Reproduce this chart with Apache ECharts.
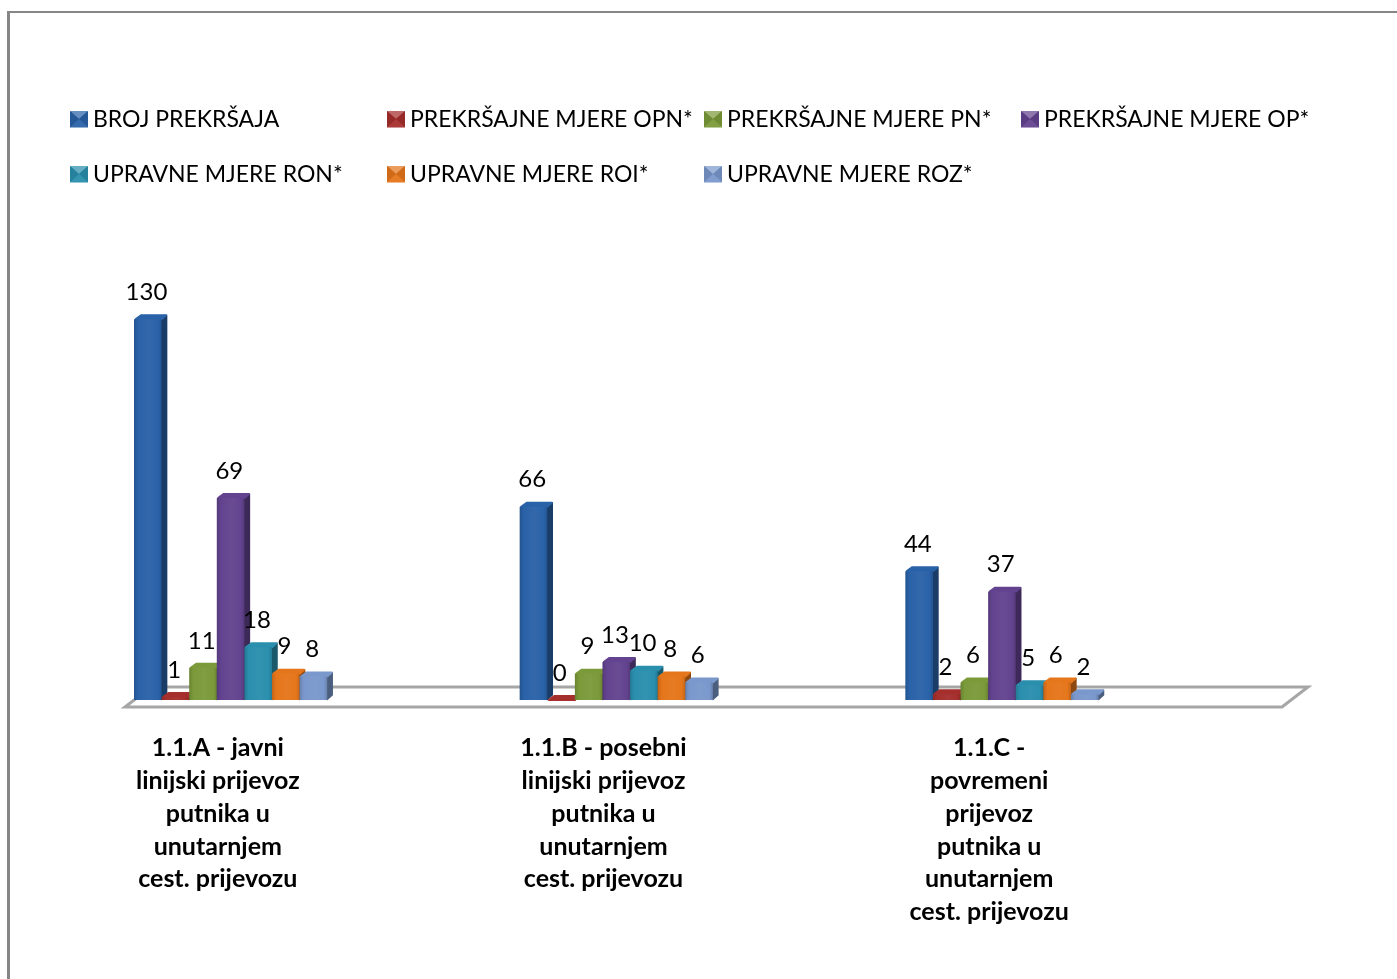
<!DOCTYPE html>
<html><head><meta charset="utf-8">
<style>html,body{margin:0;padding:0;background:#fff}#c{width:1397px;height:979px}</style>
<script src="https://cdn.jsdelivr.net/npm/echarts@6/dist/echarts.min.js"></script>
</head><body><div id="c"></div>
<script>
const categories = [
  '1.1.A - javni\nlinijski prijevoz\nputnika u\nunutarnjem\ncest. prijevozu',
  '1.1.B - posebni\nlinijski prijevoz\nputnika u\nunutarnjem\ncest. prijevozu',
  '1.1.C -\npovremeni\nprijevoz\nputnika u\nunutarnjem\ncest. prijevozu'
];
const seriesNames = ['BROJ PREKRŠAJA','PREKRŠAJNE MJERE OPN*','PREKRŠAJNE MJERE PN*','PREKRŠAJNE MJERE OP*','UPRAVNE MJERE RON*','UPRAVNE MJERE ROI*','UPRAVNE MJERE ROZ*'];
const brojPrekrsaja = [130,66,44];
const mjereOPN = [1,0,2];
const mjerePN = [11,9,6];
const mjereOP = [69,13,37];
const mjereRON = [18,10,5];
const mjereROI = [9,8,6];
const mjereROZ = [8,6,2];
const seriesValues = [brojPrekrsaja,mjereOPN,mjerePN,mjereOP,mjereRON,mjereROI,mjereROZ];
const colors = ['#2A62A8','#A52F2D','#7B9A3A','#63438F','#2A8FAD','#E5761B','#7A98CC'];
const legendX = [70,387,704,1021,70,387,704];
const legendY = [110,110,110,110,165,165,165];

const chart = echarts.init(document.getElementById('c'), null, {renderer:'canvas'});
const G = echarts.graphic;
const FONT = 'Lato';
const STEP = 27.6, FW = 27.6, D = 6, H = 5, START = 9;
function shade(hex,k){            // k<1 darkens, k>1 lightens
  const n = parseInt(hex.slice(1),16);
  const f = v => Math.max(0,Math.min(255,Math.round(k<=1 ? v*k : v+(255-v)*(k-1))));
  return 'rgb('+f(n>>16&255)+','+f(n>>8&255)+','+f(n&255)+')';
}
function lg(a,b,c,d,stops){return new G.LinearGradient(a,b,c,d,stops);}

function barRender(si){
  return function(params, api){
    const cat = api.value(0), val = api.value(1);
    const band = api.size([1,0])[0];
    const base = api.coord([cat,0]);
    const top = api.coord([cat,val]);
    const x = base[0]-band/2+START+si*STEP;
    const y0 = base[1], y1 = top[1];
    const c = colors[si];
    const dark = shade(c,0.85), side = shade(c,0.62), light = shade(c,1.04);
    const h = y0-y1;
    const children = [
      {type:'polygon',shape:{points:[[x+FW,y0-.5],[x+FW+D-1,y0-H],[x+FW+D-1,y1-H+1],[x+FW,y1]]},style:{fill:side,stroke:side,lineWidth:1.5,lineJoin:'round'}},
      {type:'polygon',shape:{points:[[x+1.5,y1],[x+FW,y1],[x+FW+D-1.5,y1-H+1],[x+D+1,y1-H+1]]},style:{fill:c,stroke:c,lineWidth:2,lineJoin:'round'}},
      {type:'rect',shape:{x:x,y:y1,width:FW,height:h},
       style:{fill:lg(0,0,1,0,[{offset:0,color:dark},{offset:0.15,color:c},{offset:0.55,color:light},{offset:0.88,color:c},{offset:1,color:dark}])}},
      {type:'text',z2:100,style:{text:String(val),x:x+12.5,y:y1-27,align:'center',verticalAlign:'middle',font:'24px '+FONT,fill:'#000'}}
    ];
    return {type:'group',children:children};
  };
}
function floorRender(params, api){
  const cs = params.coordSys;
  const y0 = api.coord([0,0])[1];
  const L = cs.x, R = cs.x+cs.width;
  return {type:'polygon',shape:{points:[[L,y0+7],[R,y0+7],[R+26,y0-13],[L+26,y0-13]]},
    style:{fill:'#fff',stroke:'#A6A6A6',lineWidth:3}};
}

const series = [{type:'custom',name:'floor',silent:true,coordinateSystem:'cartesian2d',clip:false,data:[[0,0]],encode:{x:0,y:1},renderItem:floorRender,z:1}]
 .concat(seriesNames.map((n,si)=>({
  type:'custom',name:n,coordinateSystem:'cartesian2d',clip:false,silent:true,z:2+si,
  itemStyle:{color:colors[si]},
  data:seriesValues[si].map((v,i)=>[i,v]),encode:{x:0,y:1},renderItem:barRender(si)
 })));

// Bevelled legend keys, laid over the legend's own symbols
const W = 18, K = 16;
const bevels = [];
seriesNames.forEach((n,i)=>{
  const x = legendX[i], y = legendY[i]+1, c = colors[i];
  const m = [x+W/2,y+K/2], a=[x,y], b=[x+W,y], d=[x+W,y+K], e=[x,y+K];
  [[a,b,shade(c,1.28)],[b,d,shade(c,0.9)],[d,e,shade(c,1.05)],[e,a,shade(c,0.9)]].forEach(t=>{
    bevels.push({type:'polygon',z:20,silent:true,shape:{points:[t[0],t[1],m]},style:{fill:t[2]}});
  });
});

chart.setOption({
  animation:false,
  backgroundColor:'#fff',
  textStyle:{fontFamily:FONT},
  legend:seriesNames.map((n,i)=>({
    data:[{name:n,icon:'rect'}],
    left:legendX[i],top:legendY[i]-2,itemWidth:18,itemHeight:16,itemGap:0,padding:0,selectedMode:false,
    textStyle:{fontFamily:FONT,fontSize:23,color:'#000'},
  })),
  grid:{left:125,right:115,top:290,bottom:279,containLabel:false},
  xAxis:{type:'category',data:categories,axisLine:{show:false},axisTick:{show:false},splitLine:{show:false},
    axisLabel:{interval:0,margin:32,fontFamily:FONT,fontWeight:'bold',fontSize:25,lineHeight:32.7,color:'#000',align:'center',verticalAlign:'top',padding:[0,200,0,0]}},
  yAxis:{type:'value',min:0,max:140,show:false,splitLine:{show:false}},
  graphic:[
    {type:'line',shape:{x1:8.5,y1:12,x2:1397,y2:12},style:{stroke:'#868686',lineWidth:2},silent:true},
    {type:'line',shape:{x1:8.5,y1:11,x2:8.5,y2:979},style:{stroke:'#868686',lineWidth:3},silent:true}
  ].concat(bevels),
  series:series
});
</script></body></html>
